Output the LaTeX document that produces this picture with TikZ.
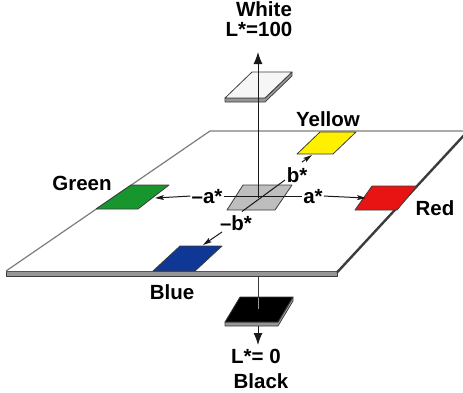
\documentclass[tikz,border=0pt]{standalone}
\usepackage{fontspec}
\setmainfont{Liberation Sans}
\usetikzlibrary{arrows.meta}
\definecolor{planeedge}{RGB}{125,125,125}
\definecolor{sidegray}{RGB}{150,150,150}
\definecolor{darkline}{RGB}{60,60,60}
\definecolor{axisc}{RGB}{25,25,25}
\definecolor{thrugray}{RGB}{150,150,150}
\definecolor{cgreen}{RGB}{22,150,45}
\definecolor{cred}{RGB}{232,20,20}
\definecolor{cblue}{RGB}{14,55,150}
\definecolor{cyellow}{RGB}{255,240,0}
\definecolor{cgray}{RGB}{190,190,190}
\definecolor{cwhite}{RGB}{246,246,246}
\begin{document}
\begin{tikzpicture}[x=1pt,y=-1pt,
  lab/.style={font=\bfseries\fontsize{20.5}{20.5}\selectfont, inner sep=0pt, anchor=base},
  slab/.style={font=\bfseries\fontsize{20.5}{20.5}\selectfont, inner sep=1pt, anchor=base},
  patch/.style={draw=darkline, line width=0.8pt, line join=round},
  side/.style={fill=sidegray, draw=darkline, line width=0.7pt, line join=round},
  axis/.style={draw=axisc, line width=1pt},
  bigarrow/.style={axis, -{Latex[length=12pt,width=9pt]}},
  smallarrow/.style={axis, -{Stealth[length=9pt,width=5pt,inset=2pt]}}
]
\useasboundingbox (0,0) rectangle (463,392);

% ---------------- plane ----------------
\fill[side] (6,271) -- (337,271) -- (337,276) -- (6,276) -- cycle;
\fill[white] (210,131) -- (468,131) -- (337,271) -- (6,271) -- cycle;
\draw[planeedge, line width=1.2pt] (6,271) -- (210,131) -- (470,131);
\draw[darkline, line width=2.4pt] (337,272.5) -- (467,132);

% ---------------- colour patches on the plane ----------------
\filldraw[patch, fill=cyellow] (320,132) -- (356,132) -- (333,154) -- (297,154) -- cycle;
\filldraw[patch, fill=cgreen] (131,185) -- (169,185) -- (138,209) -- (96,209) -- cycle;
\filldraw[patch, fill=cred] (372,186) -- (417,186) -- (397,210) -- (355,210) -- cycle;
\filldraw[patch, fill=cblue] (180,246) -- (222,246) -- (195,271) -- (153,271) -- cycle;
\filldraw[patch, fill=cgray] (243,185) -- (292,185) -- (275,210) -- (227,210) -- cycle;

% ---------------- white patch (top) ----------------
\filldraw[side] (225,98) -- (265,98) -- (292,72) -- (292,76) -- (265,102) -- (225,102) -- cycle;
\filldraw[patch, fill=cwhite] (252,72) -- (292,72) -- (265,98) -- (225,98) -- cycle;

% ---------------- black patch (bottom) ----------------
\filldraw[side] (225,322) -- (278,322) -- (293,297) -- (293,301) -- (278,326) -- (225,326) -- cycle;
\filldraw[patch, fill=black] (240,297) -- (293,297) -- (278,322) -- (225,322) -- cycle;

% ---------------- coordinates ----------------
\coordinate (C) at (258,198);
\coordinate (wtip) at (258,52);
\coordinate (planebot) at (258,276);
\coordinate (blacktop) at (258,309);
\coordinate (blackbot) at (258,326);
\coordinate (btip) at (258,345);
\coordinate (greenE) at (155,198);
\coordinate (redW) at (366,198);
\coordinate (yellowSW) at (312,155);
\coordinate (blueNE) at (203,245);
\coordinate (bEnd) at (285,180);
\coordinate (bStart) at (302,162);
\coordinate (mbEnd) at (242,211.5);
\coordinate (mbStart) at (222,232);

% ---------------- labels ----------------
\node[lab] (white) at (264,16.7) {White};
\node[lab] (L100) at (259,36.7) {L*=100};
\node[lab] (yellow) at (328,126) {Yellow};
\node[lab] (green) at (82,190) {Green};
\node[lab] (red) at (435,215) {Red};
\node[lab] (blue) at (172,299) {Blue};
\node[lab] (L0) at (256,363) {L*= 0};
\node[lab] (black) at (261,388) {Black};

\node[slab] (ma) at (207,203) {–a*};
\node[slab] (pa) at (313,203) {a*};
\node[lab] (pb) at (297,182) {b*};
\node[lab] (mb) at (236,230) {–b*};

% ---------------- axes ----------------
\draw[bigarrow] (C) -- (wtip);
\draw[axis, draw=darkline] (planebot) -- (blacktop);
\draw[thrugray, line width=1pt] (258,297.5) -- (blacktop);
\draw[bigarrow] (blackbot) -- (btip);

\draw[axis] (ma.east) -- (pa.west);
\draw[smallarrow] (ma.west) -- (greenE);
\draw[smallarrow] (pa.east) -- (redW);

\draw[axis] (mbEnd) -- (bEnd);
\draw[smallarrow] (bStart) -- (yellowSW);
\draw[smallarrow] (mbStart) -- (blueNE);
\end{tikzpicture}
\end{document}
